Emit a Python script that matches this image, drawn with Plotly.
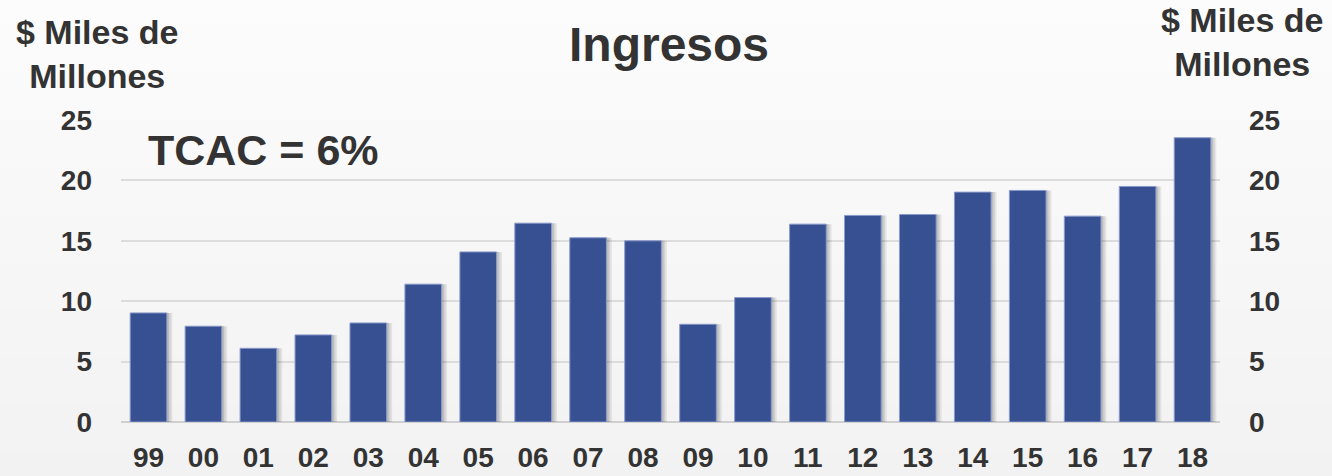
import plotly.graph_objects as go

years = ["99", "00", "01", "02", "03", "04", "05", "06", "07", "08",
         "09", "10", "11", "12", "13", "14", "15", "16", "17", "18"]
ingresos = [9.03, 7.93, 6.10, 7.21, 8.20, 11.41, 14.08, 16.46, 15.25, 15.00,
            8.09, 10.30, 16.38, 17.10, 17.18, 19.03, 19.17, 17.04, 19.50, 23.53]
y_ticks = [0, 5, 10, 15, 20, 25]

W, H = 1332, 476
ML, MR, MT, MB = 121, 112, 120, 54
PH = H - MT - MB
PW = W - ML - MR

FONT = "Liberation Sans, Arial, sans-serif"
TXT = "#333333"
BAR = "#375092"

fig = go.Figure()

# soft drop shadows (same data, offset right)
for off, alpha in [(0.10, 0.07), (0.07, 0.08), (0.04, 0.10)]:
    fig.add_trace(go.Bar(
        x=years, y=ingresos, width=0.667, offset=-0.333 + off,
        marker=dict(color=f"rgba(0,0,0,{alpha})", line=dict(width=0)),
        hoverinfo="skip", showlegend=False, yaxis="y"))

fig.add_trace(go.Bar(
    x=years, y=ingresos, width=0.667, offset=-0.333,
    marker=dict(color=BAR, line=dict(color="#8a9acb", width=1)),
    name="Ingresos", showlegend=False, yaxis="y"))

# invisible trace so the right axis renders
fig.add_trace(go.Scatter(x=years, y=ingresos, mode="lines", opacity=0,
                         hoverinfo="skip", showlegend=False, yaxis="y2"))

# background vertical gradient via bands
n = 40
y_bot = -MB / PH
y_top = 1 + MT / PH
shapes = []
for i in range(n):
    t = i / (n - 1)
    c = int(round(0xf2 + (0xfc - 0xf2) * t))
    y0 = y_bot + (y_top - y_bot) * i / n
    y1 = y_bot + (y_top - y_bot) * (i + 1) / n
    shapes.append(dict(type="rect", xref="paper", yref="paper",
                       x0=-ML / PW, x1=1 + MR / PW, y0=y0 - 0.002, y1=y1 + 0.002,
                       fillcolor=f"rgb({c},{c},{c})", line=dict(width=0),
                       layer="below"))

tickfont = dict(family=FONT, size=28, color=TXT, weight="bold")

fig.update_layout(
    width=W, height=H,
    margin=dict(l=ML, r=MR, t=MT, b=MB, pad=0, autoexpand=False),
    paper_bgcolor="#f6f6f6",
    plot_bgcolor="rgba(0,0,0,0)",
    barmode="overlay",
    shapes=shapes,
    xaxis=dict(type="category", tickfont=tickfont, showgrid=False,
               showline=False, ticks="", ticklabelstandoff=16,
               automargin=False, range=[-0.5, len(years) - 0.5]),
    yaxis=dict(range=[0, 25], tickvals=y_ticks, tickfont=tickfont,
               showgrid=True, gridcolor="#dcdcdc", gridwidth=2,
               zeroline=True, zerolinecolor="#cfcfcf", zerolinewidth=2,
               ticks="", ticklabelstandoff=28, automargin=False),
    yaxis2=dict(range=[0, 25], tickvals=y_ticks, tickfont=tickfont,
                overlaying="y", side="right", showgrid=False,
                zeroline=False, ticks="", ticklabelstandoff=28,
                automargin=False),
    annotations=[
        dict(text="<b>Ingresos</b>", xref="paper", yref="paper",
             x=(669 - ML) / PW, y=1 + (MT - 45) / PH, xanchor="center",
             yanchor="middle", showarrow=False,
             font=dict(family=FONT, size=48, color=TXT)),
        dict(text="<b>$ Miles de<br>Millones</b>", xref="paper", yref="paper",
             x=(97 - ML) / PW, y=1 + (MT - 54) / PH, xanchor="center",
             yanchor="middle", align="center", showarrow=False,
             font=dict(family=FONT, size=34, color=TXT)),
        dict(text="<b>$ Miles de<br>Millones</b>", xref="paper", yref="paper",
             x=(1242 - ML) / PW, y=1 + (MT - 42) / PH, xanchor="center",
             yanchor="middle", align="center", showarrow=False,
             font=dict(family=FONT, size=34, color=TXT)),
        dict(text="<b>TCAC = 6%</b>", xref="paper", yref="paper",
             x=(146 - ML) / PW, y=1 - (150 - MT) / PH, xanchor="left",
             yanchor="middle", showarrow=False,
             font=dict(family=FONT, size=43, color=TXT)),
    ],
)

fig.write_html("out.html",
               config={"displayModeBar": False},
               post_script="document.body.style.margin='0';document.body.style.overflow='hidden';")
